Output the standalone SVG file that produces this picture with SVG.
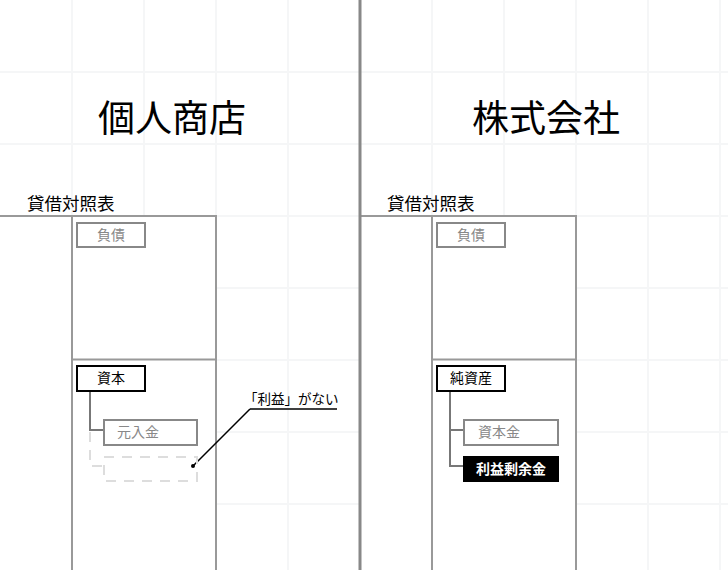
<svg xmlns="http://www.w3.org/2000/svg" width="728" height="570" viewBox="0 0 728 570">
<style>
.grid{stroke:#f5f6f7;stroke-width:2}
.frame{stroke:#999;stroke-width:2;fill:none}
.t{font-family:"Noto Sans CJK JP","Noto Sans",sans-serif}
.title{font-size:37px;fill:#000;text-anchor:middle}
.sub{font-size:17.5px;fill:#000}
.lbl{font-size:14px;text-anchor:middle}
.gbox{fill:#fff;stroke:#888;stroke-width:2}
.bbox{fill:#fff;stroke:#000;stroke-width:2}
.conn{stroke:#777;stroke-width:2;fill:none}
.dash{stroke:#ddd;stroke-width:2;fill:none;stroke-dasharray:10 8}
</style>
<rect width="728" height="570" fill="#fff"/>
<g id="grid">
<path class="grid" d="M72 0V570M144 0V570M216 0V570M288 0V570M432 0V570M504 0V570M576 0V570M648 0V570M720 0V570M0 72H728M0 144H728M0 216H728M0 288H728M0 360H728M0 432H728M0 504H728"/>
</g>
<g id="left-panel">
<rect x="0" y="216" width="216" height="354" fill="#fff"/>
<path class="frame" d="M0 216H216V570M72 216V570M72 359.5H216"/>
<text class="t title" x="172" y="132">個人商店</text>
<text class="t sub" x="27" y="210">貸借対照表</text>
</g>
<g id="right-panel">
<rect x="360" y="216" width="216" height="354" fill="#fff"/>
<path class="frame" d="M360 216H576V570M432 216V570M432 359.5H576"/>
<text class="t title" x="546" y="132">株式会社</text>
<text class="t sub" x="387" y="210">貸借対照表</text>
</g>
<g id="separator">
<line x1="360" y1="0" x2="360" y2="570" stroke="#888" stroke-width="3"/>
</g>
<g id="connectors">
<path class="conn" d="M90 391V430H103"/>
<path class="dash" d="M90 432V466H103"/>
<path class="conn" d="M450 391V466H463M450 430H463"/>
<path d="M250 409H337M250 409L193 466" stroke="#000" stroke-width="1.5" fill="none"/>
<circle cx="193" cy="466" r="2" fill="#000"/>
</g>
<g id="n-left-liab">
<rect class="gbox" x="77" y="223" width="68" height="24"/>
<text class="t lbl" x="111" y="240" fill="#888">負債</text>
</g>
<g id="n-left-capital">
<rect class="bbox" x="77" y="366" width="68" height="25"/>
<text class="t lbl" x="111" y="383" fill="#000">資本</text>
</g>
<g id="n-left-motoire">
<rect class="gbox" x="104" y="420" width="93" height="25"/>
<text class="t lbl" x="138" y="437" fill="#888">元入金</text>
</g>
<g id="n-left-missing">
<rect class="dash" x="104" y="457" width="93" height="24"/>
</g>
<g id="n-note">
<text class="t" x="244" y="404" font-size="13.5" fill="#000">「利益」がない</text>
</g>
<g id="n-right-liab">
<rect class="gbox" x="437" y="223" width="68" height="24"/>
<text class="t lbl" x="471" y="240" fill="#888">負債</text>
</g>
<g id="n-right-netassets">
<rect class="bbox" x="437" y="366" width="68" height="25"/>
<text class="t lbl" x="471" y="383" fill="#000">純資産</text>
</g>
<g id="n-right-capital">
<rect class="gbox" x="464" y="420" width="94" height="25"/>
<text class="t lbl" x="499" y="437" fill="#888">資本金</text>
</g>
<g id="n-right-retained">
<rect x="463" y="456" width="96" height="26" fill="#000"/>
<text class="t lbl" x="511" y="474" fill="#fff" font-weight="bold">利益剰余金</text>
</g>
</svg>
